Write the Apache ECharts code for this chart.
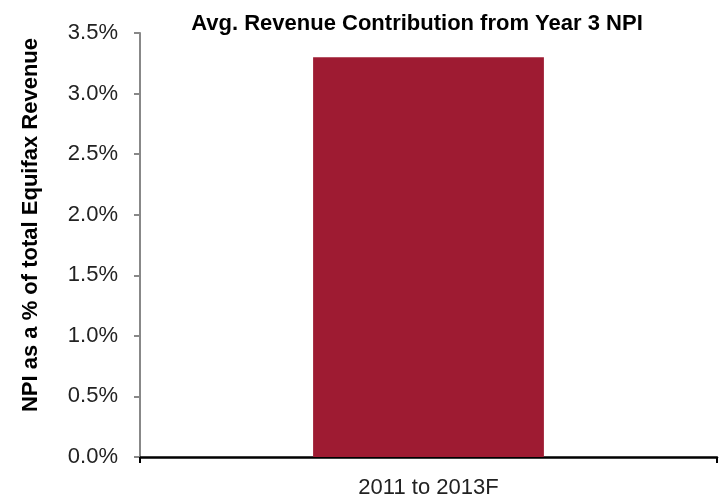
<!DOCTYPE html>
<html>
<head>
<meta charset="utf-8">
<script src="https://cdn.jsdelivr.net/npm/echarts@6/dist/echarts.min.js"></script>
<style>
  html, body { margin: 0; padding: 0; background: #fff; }
  #chart { width: 723px; height: 500px; }
</style>
</head>
<body>
<div id="chart"></div>
<script>
// Average revenue contribution from year-3 new product innovation (percent of total revenue)
const categories = ['2011 to 2013F'];
const contributionPct = [3.3];
const yTicks = { min: 0, max: 3.5, step: 0.5 };

const FONT = '"Liberation Sans Narrow", "Arial Narrow", "Liberation Sans", sans-serif';

const chart = echarts.init(document.getElementById('chart'));
chart.setOption({
  animation: false,
  title: {
    text: 'Avg. Revenue Contribution from Year 3 NPI',
    left: 412,
    textAlign: 'center',
    top: 8,
    textStyle: { fontFamily: FONT, fontSize: 22, fontWeight: 'bold', color: '#000' }
  },
  // Rotated value-axis title, placed beside the tick labels
  graphic: [{
    type: 'text',
    x: 31,
    y: 225,
    rotation: Math.PI / 2,
    style: {
      text: 'NPI as a % of total Equifax Revenue',
      fontFamily: FONT,
      fontSize: 22,
      fontWeight: 'bold',
      fill: '#000',
      align: 'center',
      verticalAlign: 'middle'
    }
  }],
  grid: { left: 140, right: 6, top: 33, bottom: 43, containLabel: false },
  xAxis: {
    type: 'category',
    data: categories,
    boundaryGap: true,
    axisLine: { lineStyle: { color: '#000', width: 2.5 } },
    axisTick: { show: true, length: 6, lineStyle: { color: '#000', width: 2 } },
    axisLabel: { fontFamily: FONT, fontSize: 22, color: '#222', margin: 20 }
  },
  yAxis: {
    type: 'value',
    min: yTicks.min,
    max: yTicks.max,
    interval: yTicks.step,
    axisLine: { show: true, lineStyle: { color: '#888', width: 2 } },
    axisTick: { show: true, length: 6, lineStyle: { color: '#888', width: 2 } },
    splitLine: { show: false },
    axisLabel: {
      fontFamily: FONT, fontSize: 22, color: '#222', margin: 22,
      formatter: v => v.toFixed(1) + '%'
    }
  },
  series: [{
    type: 'bar',
    data: contributionPct,
    barWidth: '40%',
    itemStyle: { color: '#9E1B32' }
  }]
});
</script>
</body>
</html>
